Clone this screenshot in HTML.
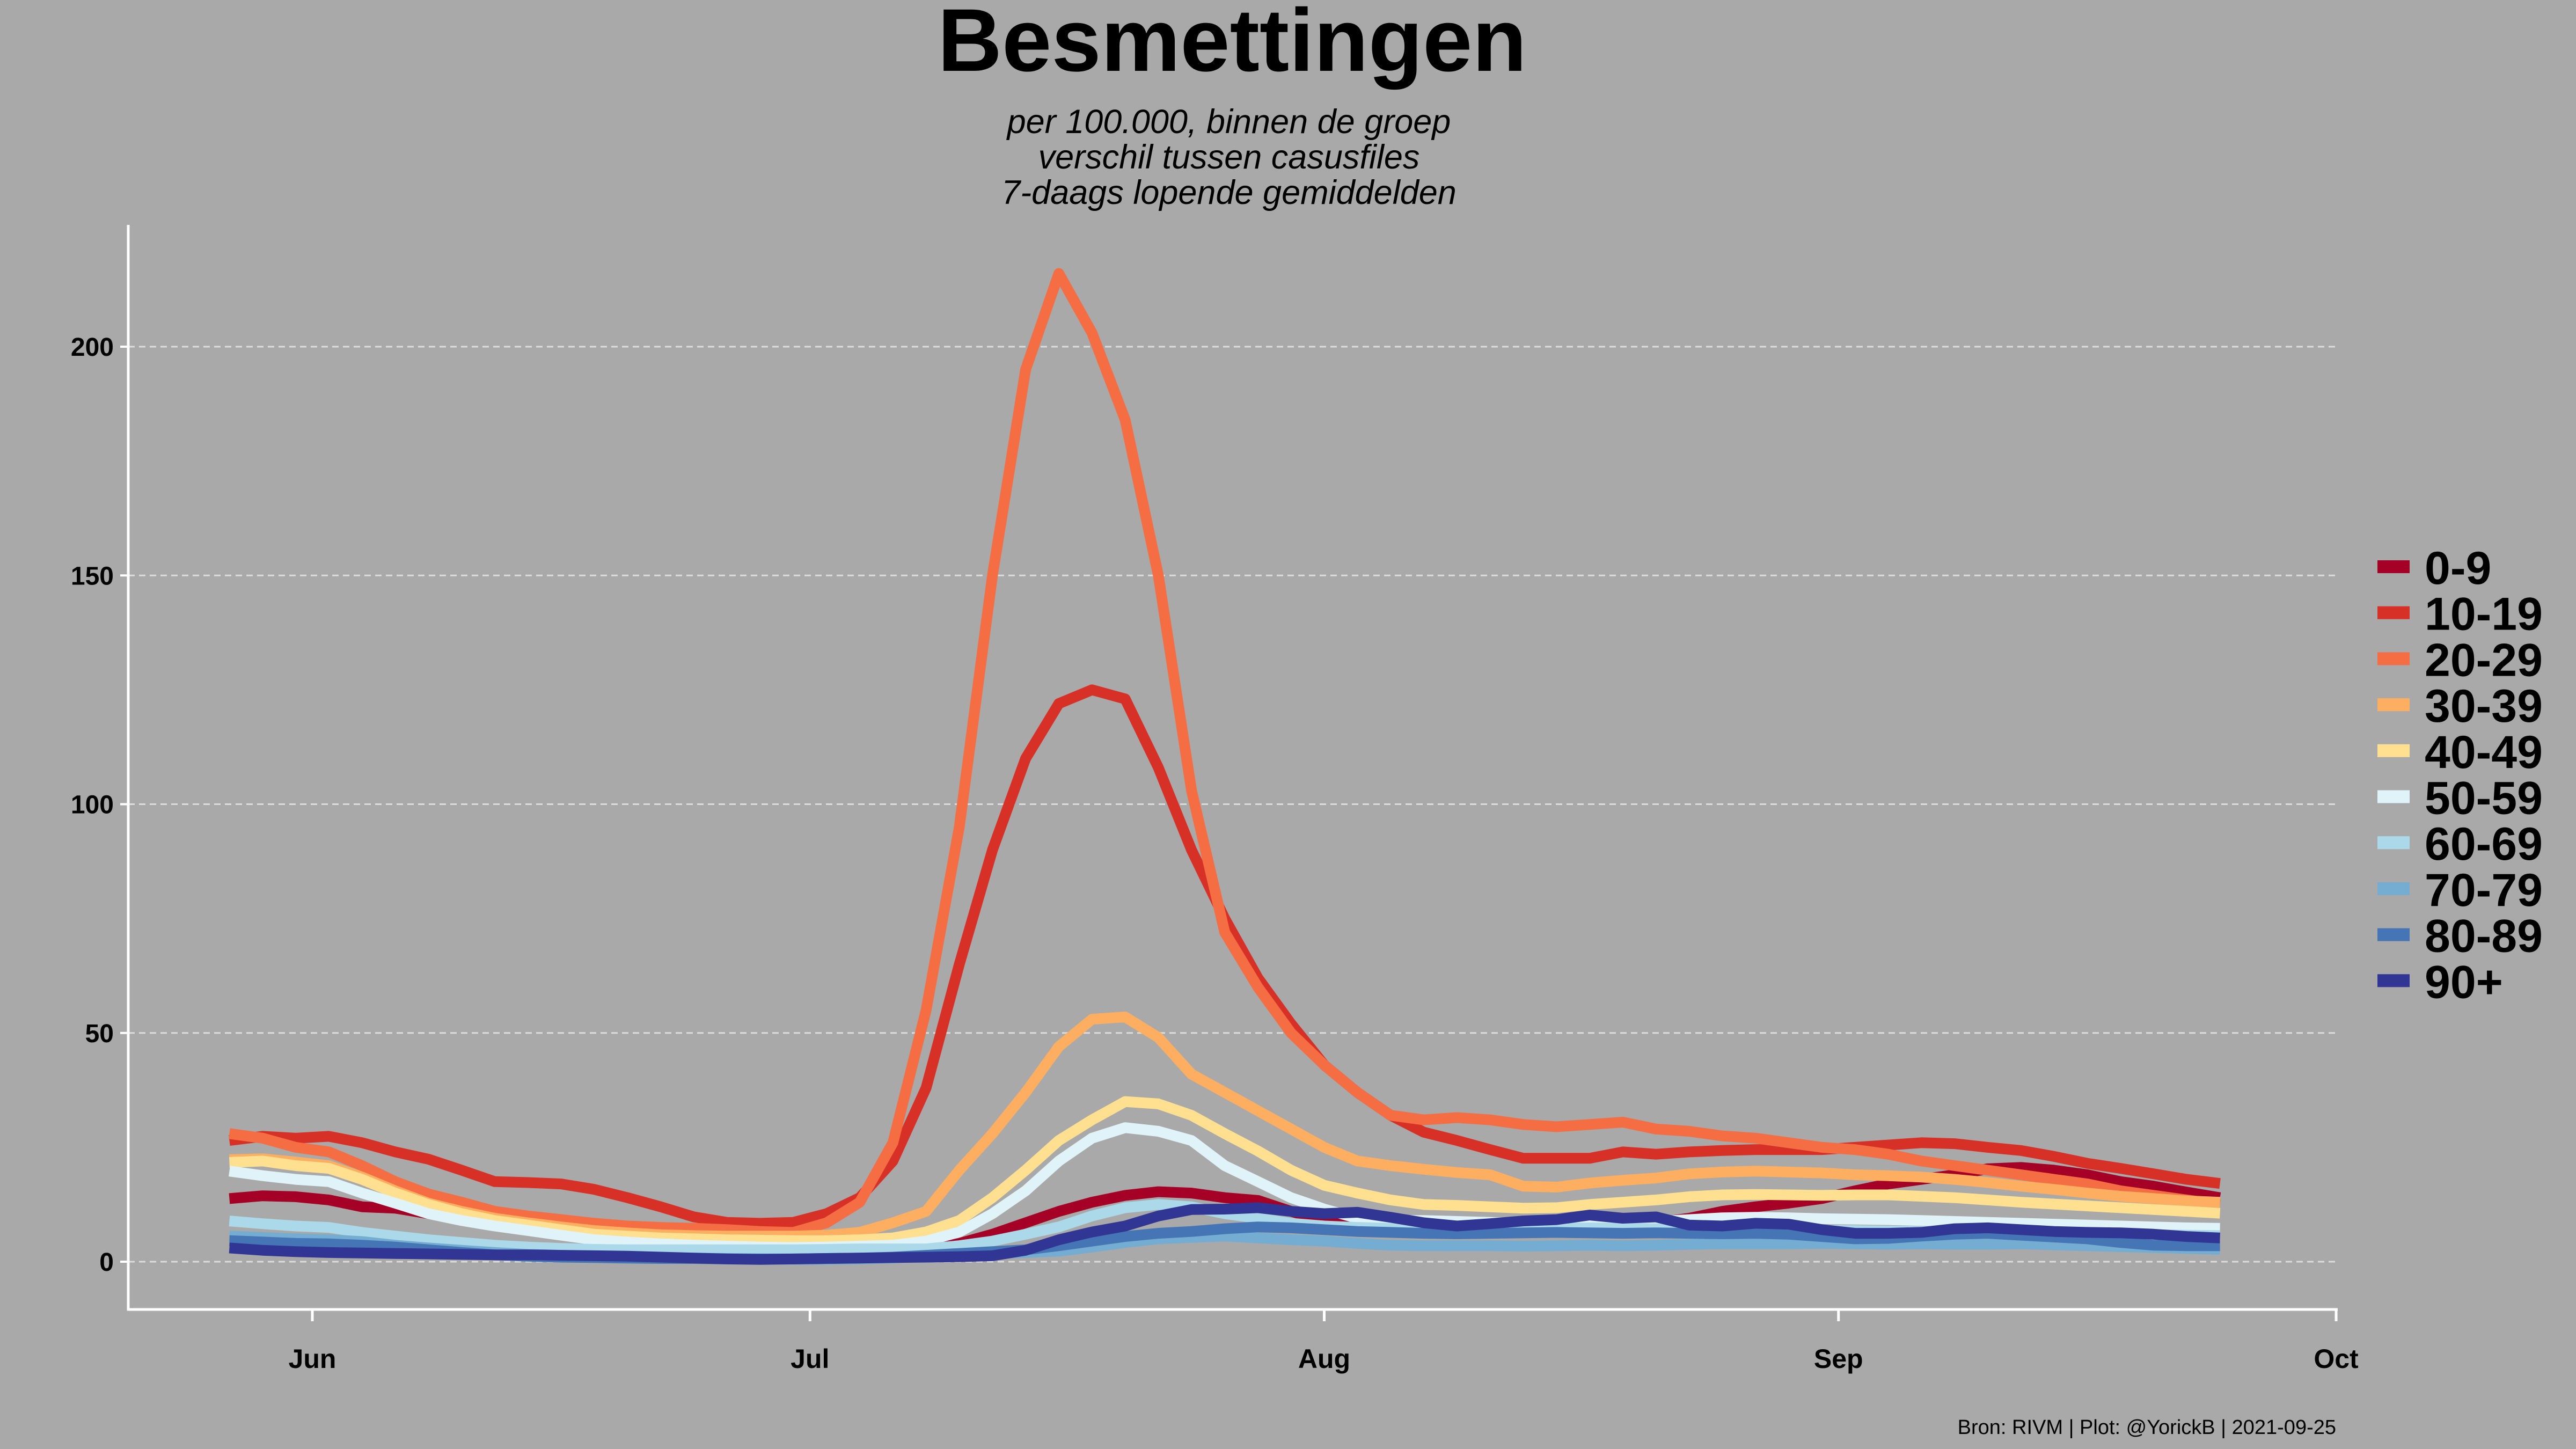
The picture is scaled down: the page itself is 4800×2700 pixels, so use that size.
<!DOCTYPE html>
<html><head><meta charset="utf-8"><style>
html,body{margin:0;padding:0;background:#a9a9a9;}
svg{display:block;font-family:"Liberation Sans",sans-serif;}
</style></head><body>
<svg id="chart" width="4800" height="2700" viewBox="0 0 4800 2700" xmlns="http://www.w3.org/2000/svg">
<rect x="0" y="0" width="4800" height="2700" fill="#a9a9a9"/>
<text x="2296" y="132" text-anchor="middle" font-size="166" font-weight="bold" fill="#000">Besmettingen</text>
<text x="2290" y="248" text-anchor="middle" font-size="63" font-style="italic" fill="#000">per 100.000, binnen de groep</text>
<text x="2290" y="314" text-anchor="middle" font-size="63" font-style="italic" fill="#000">verschil tussen casusfiles</text>
<text x="2290" y="380" text-anchor="middle" font-size="63" font-style="italic" fill="#000">7-daags lopende gemiddelden</text>
<g id="grid"></g>
<g id="axes"></g>
<g id="series"></g>
<g id="legend"></g>
<text x="4353" y="2672" text-anchor="end" font-size="38" fill="#000">Bron: RIVM | Plot: @YorickB  |  2021-09-25</text>
</svg>
<script>
const dayOffsets = [0,2,4,6,8,10,12,14,16,18,20,22,24,26,28,30,32,34,36,38,40,42,44,46,48,50,52,54,56,58,60,62,64,66,68,70,72,74,76,78,80,82,84,86,88,90,92,94,96,98,100,102,104,106,108,110,112,114,116,118,120];
const groups = ["0-9","10-19","20-29","30-39","40-49","50-59","60-69","70-79","80-89","90+"];
const colors = ["#a50026","#d73027","#f46d43","#fdae61","#fee090","#e0f3f8","#abd9e9","#74add1","#4575b4","#313695"];
const s0_9 = [13.8,14.4,14.2,13.5,12,11.7,10.5,9.2,8,7,6,5.2,4.5,4,3.5,3,2.7,2.5,2.4,2.4,2.5,2.6,4,6,8.5,11,13,14.5,15.3,15,14,13.4,11,8.9,8,7.6,7.4,7.4,7.5,7.6,7.6,7.8,8,8.5,9.5,11,12,12.8,13.8,15.5,17,18,19,20.3,20.6,20,19,17.5,16.5,15.2,14];
const s10_19 = [26.5,27.4,27,27.4,26,24,22.4,20,17.5,17.3,17,15.8,14,12,9.8,8.6,8.4,8.6,10.5,14,22,38,65,90,110,122,125,123,108,90,75,62,52,43,37,32,28.3,26.5,24.5,22.6,22.6,22.6,24,23.5,24,24.3,24.5,24.5,24.5,25,25.5,26,25.8,25,24.3,23,21.5,20.4,19.2,18,17.1];
const s20_29 = [28,27,25,24,21,17.5,14.8,13,11,10,9.2,8.4,7.8,7.5,7.3,7,6.6,6.4,8.5,13,26,55,95,150,195,216,203,184,150,103,72,60,50,43,37,32,31,31.5,31,30,29.5,30,30.5,29,28.5,27.5,27,26,25,24.5,23.5,22,21,20,19,18,17,15.5,14.5,13.5,12.5];
const s30_39 = [22.3,22.5,21.8,21,18.5,15.5,12.8,11,9.5,8.5,7.6,6.8,6.3,5.9,5.7,5.6,5.6,5.6,5.8,6.4,8.5,11,20,28,37,47,53,53.5,49,41,37,33,29,25,22,21,20.2,19.5,19,16.5,16.3,17.2,17.8,18.3,19.2,19.6,19.8,19.6,19.4,19,18.8,18.5,18,17.3,16.5,15.8,15,14.3,13.8,13.3,13];
const s40_49 = [21.7,22,21,20.4,18,15,12.5,10.5,9,8,7,6,5.6,5.2,5,4.8,4.7,4.6,4.6,4.8,5.2,6.5,9,14,20,26.5,31,35,34.5,32,28,24.2,20,16.7,15,13.5,12.5,12.3,12,11.7,11.8,12.5,13,13.5,14.2,14.6,14.7,14.6,14.5,14.6,14.6,14.3,14,13.5,13,12.6,12.2,11.8,11.4,11,10.6];
const s50_59 = [19.8,18.8,18,17.5,15,12.8,10.5,9,7.8,6.8,5.8,4.8,4.3,3.9,3.6,3.4,3.2,3.1,3.2,3.4,3.6,4.5,6.5,10.5,15.5,22,27,29.3,28.5,26.5,21,17.5,14,11.5,9.5,9,9,8.8,8.6,8.4,8.4,8.4,8.6,8.8,9.2,9.6,9.7,9.6,9.4,9.3,9.2,9,8.8,8.6,8.4,8.2,8,7.8,7.6,7.4,7.3];
const s60_69 = [8.9,8.3,7.8,7.5,6.4,5.6,4.8,4.2,3.6,3.2,2.9,2.7,2.6,2.6,2.6,2.6,2.6,2.6,2.7,2.8,2.8,2.8,3.5,4.5,6,7.6,10,11.8,12.5,12,10.5,9.5,8.4,7.8,7.5,7.3,7.3,7.2,7.2,7.3,7.3,7.4,7.3,7.2,7,7,7,7,6.9,6.8,6.7,6.6,6.5,6.4,6.3,6.2,6.1,6,5.9,5.8,5.7];
const s70_79 = [5.6,5.3,5,4.8,4.4,3.6,3,2.5,2,1.6,1.4,1.2,1,0.9,0.8,0.7,0.6,0.5,0.5,0.6,0.8,1.2,1.5,1.8,2,2.3,3.2,4.2,5,5.3,5.6,5.2,4.8,4.5,4,3.6,3.5,3.5,3.5,3.4,3.5,3.6,3.5,3.6,3.8,3.9,3.9,3.9,4,3.9,3.8,3.9,3.8,3.8,3.9,3.7,3.5,3.3,3.1,2.9,2.7];
const s80_89 = [4.6,4.3,4,3.9,3.6,3.2,2.6,2,1.5,1.2,1,0.9,0.8,0.7,0.7,0.6,0.6,0.6,0.7,0.8,1,1.4,1.8,2.2,2.6,3.5,4.5,5.5,6.2,6.6,7.2,7.6,7.4,7,6.6,6.4,6.2,6.1,6.2,6.3,6.4,6.3,6.2,6.3,6.2,6.1,6.2,6,5.5,5,5.1,5.6,6,6.2,5.8,5.4,5,4.2,3.6,3.5,3.5];
const s90p = [3,2.5,2.2,2,1.9,1.8,1.7,1.6,1.5,1.5,1.4,1.3,1.2,1,0.8,0.6,0.5,0.6,0.7,0.8,0.9,1,1.1,1.3,2.5,4.8,6.5,7.8,10,11.4,11.5,11.8,11,10.5,10.8,9.7,8.5,7.8,8.3,8.9,9.2,10.2,9.5,9.8,8,7.8,8.4,8.2,7,6.2,6.2,6.4,7.2,7.4,7,6.6,6.4,6.3,6,5.5,5.2];
const yTicks = [0,50,100,150,200];
const monthLabels = ["Jun","Jul","Aug","Sep","Oct"];
const monthDays = [5,35,66,97,127];

const allSeries = [s0_9,s10_19,s20_29,s30_39,s40_49,s50_59,s60_69,s70_79,s80_89,s90p];
const NS = "http://www.w3.org/2000/svg";
function xScale(d){ return 582 + (d - 5) * 30.91; }
function yScale(v){ return 2351 - v * 8.525; }
function mk(tag, attrs, parent){ const e = document.createElementNS(NS, tag); for (const k in attrs) e.setAttribute(k, attrs[k]); parent.appendChild(e); return e; }

const grid = document.getElementById('grid');
const axes = document.getElementById('axes');
yTicks.forEach(v => {
  const gl = mk('line', {x1:239, x2:4353, y1:yScale(v), y2:yScale(v), stroke:'#dcdcdc', 'stroke-width':3, 'stroke-dasharray':'12 8'}, grid);
  
  
  const tk = mk('line', {x1:224, x2:239, y1:yScale(v), y2:yScale(v), stroke:'#fff', 'stroke-width':4}, axes);
  
  
  const t = mk('text', {x:212, y:yScale(v) + 17, 'text-anchor':'end', 'font-size':48, 'font-weight':'bold', fill:'#000'}, axes);
  t.textContent = v;
  
  
});
const ya = mk('line', {x1:239, x2:239, y1:419, y2:2442, stroke:'#fff', 'stroke-width':5}, axes);


const xa = mk('line', {x1:237, x2:4356, y1:2440, y2:2440, stroke:'#fff', 'stroke-width':5}, axes);


monthLabels.forEach((m, i) => {
  const x = xScale(monthDays[i]);
  const tk = mk('line', {x1:x, x2:x, y1:2440, y2:2462, stroke:'#fff', 'stroke-width':5}, axes);
  
  
  const t = mk('text', {x:x, y:2549, 'text-anchor':'middle', 'font-size':50, 'font-weight':'bold', fill:'#000'}, axes);
  t.textContent = m;
  
  
});

const sg = document.getElementById('series');
allSeries.forEach((vals, i) => {
  const d = vals.map((v, k) => (k ? 'L' : 'M') + xScale(dayOffsets[k]).toFixed(1) + ',' + yScale(v).toFixed(1)).join(' ');
  const p = mk('path', {d:d, fill:'none', stroke:colors[i], 'stroke-width':20, 'stroke-linejoin':'round', 'stroke-linecap':'butt'}, sg);
  
  
});

const lg = document.getElementById('legend');
groups.forEach((g, i) => {
  const cy = 1056 + i * 85.7;
  const r = mk('rect', {x:4430, y:cy - 12, width:60, height:24, fill:colors[i]}, lg);
  
  
  const t = mk('text', {x:4518, y:cy + 32, 'font-size':86, 'font-weight':'bold', fill:'#000'}, lg);
  t.textContent = g;
  
  
});
</script>
</body></html>
